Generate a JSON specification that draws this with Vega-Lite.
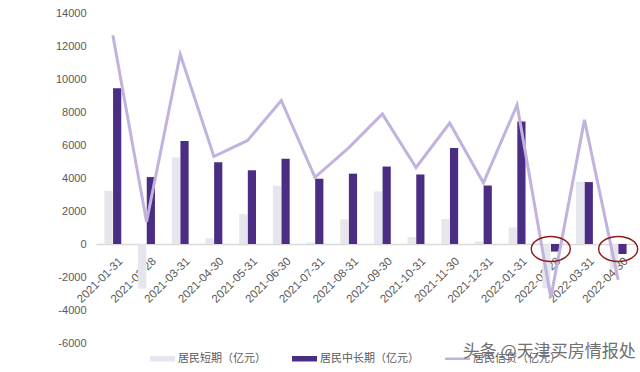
{
  "$schema": "https://vega.github.io/schema/vega-lite/v6.json",
  "width": 539,
  "height": 330,
  "autosize": {"type": "none"},
  "padding": {"left": 96, "top": 13, "right": 5, "bottom": 29},
  "background": "white",
  "config": {
    "view": {"stroke": null},
    "axis": {"grid": false, "labelFont": "Liberation Sans", "labelColor": "#595959", "labelOverlap": false},
    "axisY": {"labelOverlap": false}
  },
  "title": {
    "text": "头条 @天津买房情报处",
    "orient": "bottom",
    "anchor": "end",
    "font": "Noto Sans CJK SC",
    "fontSize": 17,
    "fontWeight": "normal",
    "color": "#707070",
    "offset": -20,
    "dx": -5
  },
  "datasets": {
    "bars": [
      {"月份": "2021-01-31", "系列": "居民短期（亿元）", "值": 3222},
      {"月份": "2021-01-31", "系列": "居民中长期（亿元）", "值": 9435},
      {"月份": "2021-02-28", "系列": "居民短期（亿元）", "值": -2706},
      {"月份": "2021-02-28", "系列": "居民中长期（亿元）", "值": 4055},
      {"月份": "2021-03-31", "系列": "居民短期（亿元）", "值": 5250},
      {"月份": "2021-03-31", "系列": "居民中长期（亿元）", "值": 6250},
      {"月份": "2021-04-30", "系列": "居民短期（亿元）", "值": 349},
      {"月份": "2021-04-30", "系列": "居民中长期（亿元）", "值": 4953},
      {"月份": "2021-05-31", "系列": "居民短期（亿元）", "值": 1808},
      {"月份": "2021-05-31", "系列": "居民中长期（亿元）", "值": 4468},
      {"月份": "2021-06-30", "系列": "居民短期（亿元）", "值": 3530},
      {"月份": "2021-06-30", "系列": "居民中长期（亿元）", "值": 5166},
      {"月份": "2021-07-31", "系列": "居民短期（亿元）", "值": 88},
      {"月份": "2021-07-31", "系列": "居民中长期（亿元）", "值": 3955},
      {"月份": "2021-08-31", "系列": "居民短期（亿元）", "值": 1500},
      {"月份": "2021-08-31", "系列": "居民中长期（亿元）", "值": 4263},
      {"月份": "2021-09-30", "系列": "居民短期（亿元）", "值": 3188},
      {"月份": "2021-09-30", "系列": "居民中长期（亿元）", "值": 4694},
      {"月份": "2021-10-31", "系列": "居民短期（亿元）", "值": 423},
      {"月份": "2021-10-31", "系列": "居民中长期（亿元）", "值": 4213},
      {"月份": "2021-11-30", "系列": "居民短期（亿元）", "值": 1513},
      {"月份": "2021-11-30", "系列": "居民中长期（亿元）", "值": 5821},
      {"月份": "2021-12-31", "系列": "居民短期（亿元）", "值": 165},
      {"月份": "2021-12-31", "系列": "居民中长期（亿元）", "值": 3544},
      {"月份": "2022-01-31", "系列": "居民短期（亿元）", "值": 1003},
      {"月份": "2022-01-31", "系列": "居民中长期（亿元）", "值": 7424},
      {"月份": "2022-02-28", "系列": "居民短期（亿元）", "值": -2686},
      {"月份": "2022-02-28", "系列": "居民中长期（亿元）", "值": -459},
      {"月份": "2022-03-31", "系列": "居民短期（亿元）", "值": 3770},
      {"月份": "2022-03-31", "系列": "居民中长期（亿元）", "值": 3752},
      {"月份": "2022-04-30", "系列": "居民短期（亿元）", "值": -1517},
      {"月份": "2022-04-30", "系列": "居民中长期（亿元）", "值": -605}
    ],
    "credit": [
      {"月份": "2021-01-31", "值": 12657},
      {"月份": "2021-02-28", "值": 1350},
      {"月份": "2021-03-31", "值": 11500},
      {"月份": "2021-04-30", "值": 5302},
      {"月份": "2021-05-31", "值": 6276},
      {"月份": "2021-06-30", "值": 8696},
      {"月份": "2021-07-31", "值": 4043},
      {"月份": "2021-08-31", "值": 5831},
      {"月份": "2021-09-30", "值": 7882},
      {"月份": "2021-10-31", "值": 4636},
      {"月份": "2021-11-30", "值": 7334},
      {"月份": "2021-12-31", "值": 3709},
      {"月份": "2022-01-31", "值": 8430},
      {"月份": "2022-02-28", "值": -3250},
      {"月份": "2022-03-31", "值": 7522},
      {"月份": "2022-04-30", "值": -2170}
    ],
    "circled": [
      {"月份": "2022-02-28", "值": -300},
      {"月份": "2022-04-30", "值": -300}
    ]
  },
  "layer": [
    {
      "data": {"name": "bars"},
      "mark": {"type": "bar"},
      "encoding": {
        "x": {
          "field": "月份",
          "type": "nominal",
          "sort": null,
          "scale": {"paddingInner": 0.5, "paddingOuter": 0.25},
          "axis": {
            "title": null,
            "labelAngle": -45,
            "offset": -99,
            "domainColor": "#d9d9d9",
            "domainWidth": 1.5,
            "ticks": false,
            "labelFontSize": 11.5,
            "labelPadding": 11,
            "labelOffset": 4,
            "labelOverlap": false,
            "labelColor": "#595959"
          }
        },
        "xOffset": {
          "field": "系列",
          "sort": ["居民短期（亿元）", "居民中长期（亿元）"],
          "scale": {"paddingInner": 0.05}
        },
        "y": {
          "field": "值",
          "type": "quantitative",
          "scale": {"domain": [-6000, 14000], "nice": false},
          "axis": {
            "title": null,
            "tickCount": 10,
            "labelExpr": "'' + datum.value",
            "labelOverlap": false,
            "domain": false,
            "ticks": false,
            "labelPadding": 10,
            "labelFontSize": 11
          }
        },
        "color": {
          "field": "系列",
          "type": "nominal",
          "scale": {
            "domain": ["居民短期（亿元）", "居民中长期（亿元）", "居民信贷（亿元）"],
            "range": ["#e6e6ee", "#4b2e83", "#c2b2de"]
          },
          "legend": {
            "orient": "none",
            "legendX": 54,
            "legendY": 333,
            "direction": "horizontal",
            "title": null,
            "symbolType": "M-1,-0.22H1V0.22H-1Z",
            "symbolSize": 625,
            "symbolStrokeWidth": 0,
            "labelFont": "Noto Sans CJK SC",
            "labelFontSize": 11,
            "labelColor": "#595959",
            "labelOffset": 3,
            "columnPadding": 26,
            "encode": {
              "symbols": {
                "update": {
                  "fill": {"scale": "color", "field": "value"},
                  "stroke": {"value": "transparent"},
                  "shape": {"signal": "datum.value === '居民信贷（亿元）' ? 'M-1,-0.1H1V0.1H-1Z' : 'M-1,-0.22H1V0.22H-1Z'"}
                }
              }
            }
          }
        }
      }
    },
    {
      "data": {"name": "credit"},
      "mark": {"type": "line", "strokeWidth": 3},
      "encoding": {
        "x": {"field": "月份", "type": "nominal", "sort": null},
        "y": {"field": "值", "type": "quantitative", "axis": {"labelOverlap": false}},
        "color": {"datum": "居民信贷（亿元）"}
      }
    },
    {
      "data": {"name": "circled"},
      "mark": {
        "type": "point",
        "shape": "M-1,0A1,0.64,0,1,1,1,0A1,0.64,0,1,1,-1,0Z",
        "size": 1521,
        "filled": false,
        "stroke": "#8b1c1c",
        "strokeWidth": 1.5,
        "opacity": 1,
        "dx": 3
      },
      "encoding": {
        "x": {"field": "月份", "type": "nominal", "sort": null},
        "y": {"field": "值", "type": "quantitative"}
      }
    }
  ]
}
